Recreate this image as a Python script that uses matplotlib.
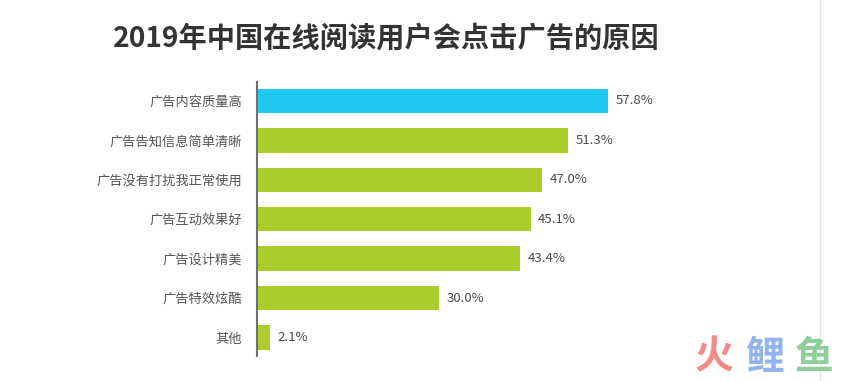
import matplotlib.pyplot as plt
import numpy as np

plt.rcParams['font.family'] = ['Noto Sans CJK SC', 'DejaVu Sans']

# data
reasons = ['广告内容质量高', '广告告知信息简单清晰', '广告没有打扰我正常使用',
           '广告互动效果好', '广告设计精美', '广告特效炫酷', '其他']
shares = [57.8, 51.3, 47.0, 45.1, 43.4, 30.0, 2.1]
title = '2019年中国在线阅读用户会点击广告的原因'

blue = '#1ec8ee'
green = '#abcd2c'

fig = plt.figure(figsize=(8.62, 3.81), dpi=100)
ax = fig.add_axes([257 / 862, 1 - 356 / 381, 425 / 862, 274 / 381])

ypos = np.arange(len(reasons))
colors = [blue] + [green] * (len(reasons) - 1)
ax.barh(ypos, shares, height=0.62, color=colors, zorder=2)

for y, v in zip(ypos, shares):
    ax.text(v + 1.2, y, f'{v:.1f}%', va='center', ha='left',
            fontsize=9.5, color='#4a4a4a')

ax.set_xlim(0, 70)
ax.set_ylim(6.47, -0.48)
ax.set_yticks(ypos)
ax.set_yticklabels(reasons, fontsize=9.5, color='#555555')
ax.tick_params(axis='y', length=0, pad=11)
ax.set_xticks([])
for s in ['top', 'right', 'bottom']:
    ax.spines[s].set_visible(False)
ax.spines['left'].set_color('#707070')
ax.spines['left'].set_linewidth(1.5)

fig.text(113 / 862, 1 - 38 / 381, title, fontsize=20.3, fontweight='bold',
         color='#333333', va='center', ha='left')

# thin page edge on the right
fig.add_artist(plt.Line2D([820 / 862, 820 / 862], [0, 1], color='#e6e6e6', lw=1))

# watermark
for ch, x, c in [('火', 0.829, '#f28a8a'), ('鲤', 0.887, '#92b2f0'), ('鱼', 0.945, '#8fcf9c')]:
    fig.text(x, 1 - 357 / 381, ch, fontsize=28, fontweight='bold', color=c,
             ha='center', va='center')

fig.savefig('out.png', dpi=100)
